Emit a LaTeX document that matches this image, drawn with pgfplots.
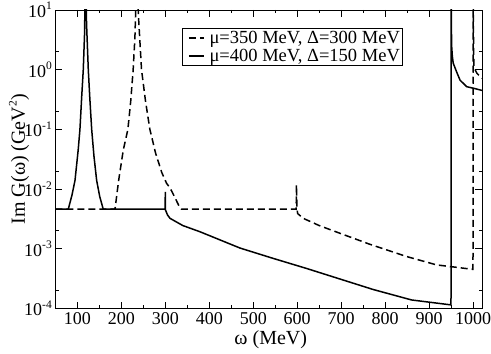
\documentclass[border=0pt]{standalone}
\usepackage{fontspec}
\setmainfont{Liberation Serif}
\usepackage{pgfplots}
\pgfplotsset{compat=1.18}
\newcommand{\ex}[1]{\raisebox{0.42em}{\fontsize{11.5}{11.5}\selectfont #1}}

\begin{document}
\begin{tikzpicture}
\begin{axis}[
  scale only axis, width=426.7pt, height=298.5pt,
  xmin=50, xmax=1020,
  ymode=log, ymin=1e-4, ymax=10,
  axis line style={line width=0.9pt},
  every tick/.style={black, line width=0.9pt},
  major tick length=7pt, minor tick length=3.5pt,
  tick align=inside,
  xtick={100,200,...,1000},
  xticklabels={100,200,300,400,500,600,700,800,900,1000},
  minor x tick num=1,
  ytick={1e-4,1e-3,1e-2,1e-1,1,10},
  yticklabels={10\ex{-4},10\ex{-3},10\ex{-2},10\ex{-1},10\ex{0},10\ex{1}},
  minor ytick={2e-4,2e-3,2e-2,2e-1,2},
  tick label style={font=\fontsize{18}{18}\selectfont},
  xlabel={ω (MeV)},
  ylabel={Im G(ω) (GeV\ex{2})},
  label style={font=\fontsize{20}{20}\selectfont},
  x label style={at={(axis description cs:0.505,-0.106)}, anchor=center},
  y label style={at={(axis description cs:-0.085,0.5)}, anchor=center},
  legend style={at={(0.296,0.941)}, anchor=north west, draw=black,
    line width=0.9pt, font=\fontsize{18.5}{20}\selectfont,
    inner xsep=1pt, inner ysep=1pt, row sep=0pt, cells={anchor=west}},
  legend image code/.code={\path (-5pt,0pt); \draw[#1] (0pt,0pt) -- (15pt,0pt); \path (18pt,0pt);},
]
% mu=350, Delta=300
\addplot[black, line width=1.5pt, dash pattern=on 7pt off 4pt] coordinates {
  (50,4.6e-3) (185.7,4.6e-3) (194,0.014) (204.5,0.045) (215,0.1) (221.5,0.3)
  (227,1.0) (231,3.5) (235.5,50) (239,8) (246,1.0) (255,0.3) (265,0.1)
  (278,0.04) (292,0.019) (303,0.0125) (311,0.0104) (322,7.2e-3) (333,4.9e-3)
  (337,4.6e-3) (597.5,4.6e-3) (598.3,1.17e-2) (599.5,4.6e-3) (601,3.89e-3)
  (613.6,3.24e-3) (650,2.45e-3) (697,1.82e-3) (765,1.19e-3) (849,7.41e-4)
  (917,5.37e-4) (951,5.01e-4) (999.5,4.52e-4) (1000,100) (1000.4,6)
  (1001.5,1.1) (1008,0.88) (1016,0.76) (1020,0.72)
};
\addlegendentry{μ=350 MeV, Δ=300 MeV}
% mu=400, Delta=150
\addplot[black, line width=1.5pt] coordinates {
  (50,4.6e-3) (79.5,4.6e-3) (88,8e-3) (94.8,0.014) (102,0.045) (106,0.1)
  (110,0.35) (113.6,1.0) (116.5,4) (118.8,60) (121,6) (125,1.0) (128.5,0.33)
  (132.7,0.1) (138,0.035) (144,0.014) (151,7.5e-3) (159,4.6e-3)
  (299.8,4.6e-3) (300,9.0e-3) (300.3,4.5e-3) (305,3.7e-3) (310.7,3.24e-3)
  (340,2.45e-3) (378.9,1.93e-3) (469.8,1.03e-3) (545.5,6.9e-4)
  (621.4,4.68e-4) (697,3.12e-4) (772.7,2.08e-4) (860,1.39e-4)
  (949.5,1.15e-4) (950,100) (950.3,6) (951,2.5) (952.5,1.7) (954.5,1.29)
  (962,0.93) (970,0.67) (985,0.52) (1000,0.49) (1020,0.45)
};
\addlegendentry{μ=400 MeV, Δ=150 MeV}
\end{axis}
\pgfresetboundingbox
\path ([shift={(-55.3pt,-44.5pt)}]current axis.south west) rectangle
      ([shift={(9pt,10pt)}]current axis.north east);
\end{tikzpicture}
\end{document}
